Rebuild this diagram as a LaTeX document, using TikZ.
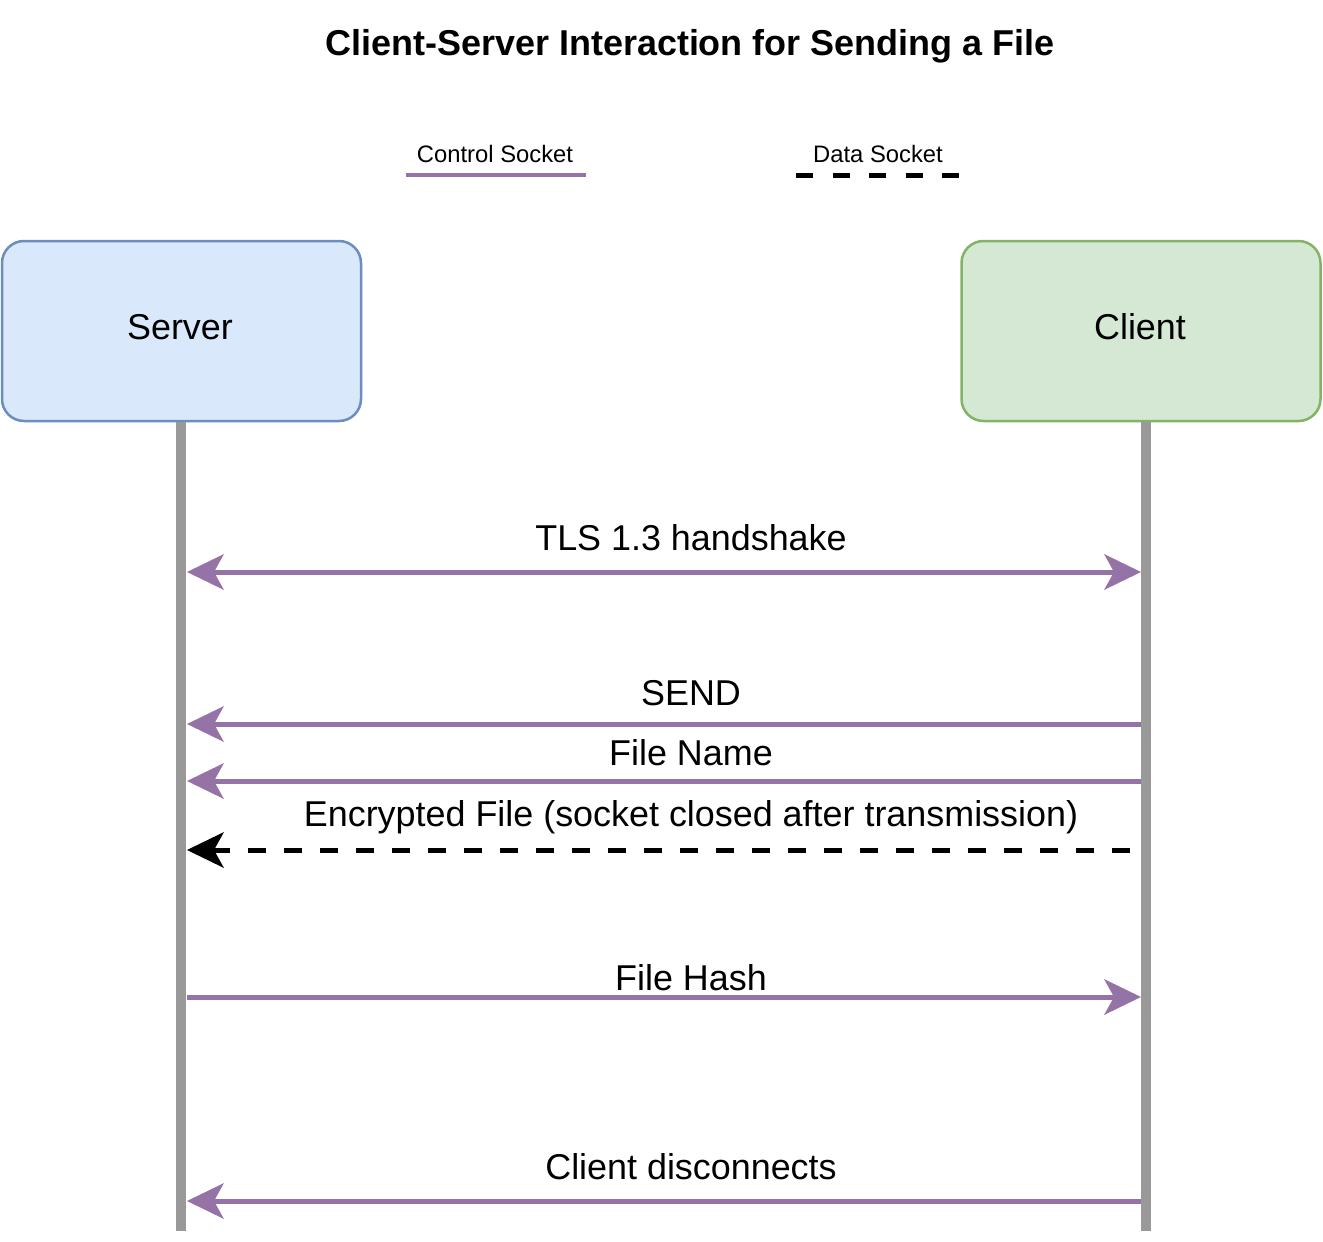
\documentclass[tikz,border=0pt]{standalone}
\usepackage{fontspec}
\setmainfont{Liberation Sans}
\usetikzlibrary{arrows.meta}
\definecolor{ctrl}{HTML}{9673A6}
\definecolor{life}{HTML}{999999}
\definecolor{srvfill}{HTML}{DAE8FC}
\definecolor{srvline}{HTML}{6C8EBF}
\definecolor{clifill}{HTML}{D5E8D4}
\definecolor{cliline}{HTML}{82B366}
\tikzset{
  actor/.style={draw, line width=2.5pt, rounded corners=22pt, minimum width=359pt, minimum height=180pt, inner sep=0pt},
  lifeline/.style={draw=life, line width=10pt},
  ctrlarrow/.style={draw=ctrl, line width=5pt, -{Stealth[length=37pt,width=36pt,inset=10pt,fill=ctrl,line width=0pt]}},
  ctrlboth/.style={draw=ctrl, line width=5pt, {Stealth[length=37pt,width=36pt,inset=10pt,fill=ctrl,line width=0pt]}-{Stealth[length=37pt,width=36pt,inset=10pt,fill=ctrl,line width=0pt]}},
  dataarrow/.style={draw=black, line width=5pt, dash pattern=on 18pt off 18pt, -{Stealth[length=37pt,width=36pt,inset=10pt,fill=black,line width=0pt]}},
  msg/.style={anchor=base, inner sep=0pt, font=\fontsize{35.9}{40}\selectfont},
  legtext/.style={anchor=base, inner sep=0pt, font=\fontsize{23.8}{28}\selectfont},
}
\begin{document}
\begin{tikzpicture}[x=1pt,y=-1pt]
\useasboundingbox (0,0) rectangle (1323,1242);
% title
\node[anchor=base, inner sep=0pt, font=\fontsize{35.95}{40}\selectfont\bfseries] (title) at (690,55) {Client-Server Interaction for Sending a File};
% legend
\node[legtext] (lc) at (495,162) {Control Socket};
\coordinate (lc1) at (406,175);
\coordinate (lc2) at (586,175);
\draw[draw=ctrl, line width=4.5pt] (lc1) -- (lc2);
\node[legtext] (ld) at (878,162) {Data Socket};
\coordinate (ld1) at (796,175);
\coordinate (ld2) at (959,175);
\draw[line width=5pt, dash pattern=on 17pt off 19.5pt] (ld1) -- (ld2);
% actors
\node[actor, fill=srvfill, draw=srvline] (srv) at (181.5,331) {};
\node[msg] (srvlabel) at (180,339) {Server};
\node[actor, fill=clifill, draw=cliline] (cli) at (1141,331) {};
\node[msg] (clilabel) at (1140,339) {Client};
% lifelines
\coordinate (srvend) at (181,1231);
\coordinate (cliend) at (1146,1231);
\draw[lifeline] (srv.south -| srvend) -- (srvend);
\draw[lifeline] (cli.south -| cliend) -- (cliend);
% message end points
\coordinate (s1) at (187,572);  \coordinate (c1) at (1141,572);
\coordinate (s2) at (187,724);  \coordinate (c2) at (1141,724);
\coordinate (s3) at (187,781);  \coordinate (c3) at (1141,781);
\coordinate (s4) at (187,850);  \coordinate (c4) at (1130,850);
\coordinate (s5) at (187,997);  \coordinate (c5) at (1141,997);
\coordinate (s6) at (187,1201); \coordinate (c6) at (1141,1201);
% messages
\draw[ctrlboth] (s1) -- (c1);
\node[msg] (m1) at (691,550) {TLS 1.3 handshake};
\draw[ctrlarrow] (c2) -- (s2);
\node[msg] (m2) at (691,705) {SEND};
\draw[ctrlarrow] (c3) -- (s3);
\node[msg] (m3) at (691,765) {File Name};
\draw[dataarrow] (c4) -- (s4);
\node[msg] (m4) at (691,826) {Encrypted File (socket closed after transmission)};
\draw[ctrlarrow] (s5) -- (c5);
\node[msg] (m5) at (691,990) {File Hash};
\draw[ctrlarrow] (c6) -- (s6);
\node[msg] (m6) at (691,1179) {Client disconnects};
\end{tikzpicture}
\end{document}
